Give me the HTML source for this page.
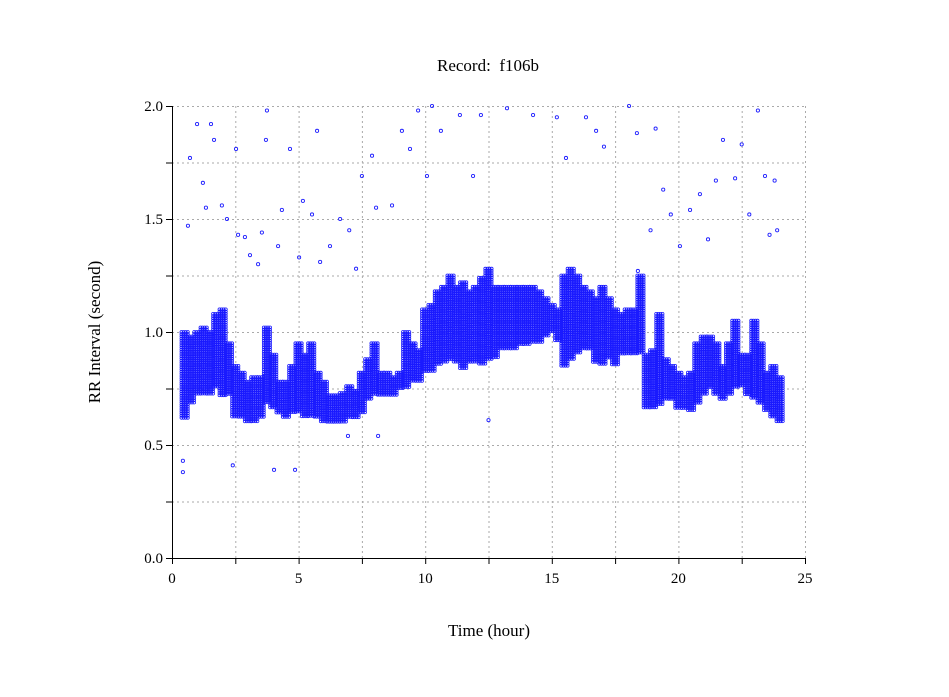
<!DOCTYPE html>
<html><head><meta charset="utf-8"><style>
body{margin:0;background:#fff}
svg{display:block;font-family:"Liberation Serif",serif}
</style></head><body>
<svg id="chart" width="949" height="697">
<g id="grid"></g>
<g id="marks"></g>
<g id="axes"></g>
<text x="488" y="71" text-anchor="middle" font-size="17">Record:&#160; f106b</text>
<text x="489" y="636" text-anchor="middle" font-size="17">Time (hour)</text>
<text transform="translate(100,332) rotate(-90)" text-anchor="middle" font-size="17">RR Interval (second)</text>
</svg>
<script>
const binStart=0.5, binWidth=0.25;
const bandLow=[0.62,0.68,0.72,0.72,0.72,0.75,0.72,0.72,0.62,0.62,0.6,0.6,0.62,0.68,0.66,0.64,0.62,0.64,0.64,0.62,0.62,0.62,0.6,0.6,0.6,0.6,0.62,0.62,0.64,0.7,0.72,0.72,0.72,0.72,0.75,0.75,0.78,0.78,0.82,0.82,0.85,0.86,0.88,0.86,0.84,0.86,0.86,0.86,0.88,0.88,0.92,0.92,0.92,0.94,0.94,0.95,0.95,0.98,1.0,0.96,0.85,0.88,0.9,0.92,0.92,0.86,0.85,0.88,0.85,0.9,0.9,0.9,0.9,0.66,0.66,0.68,0.7,0.7,0.66,0.66,0.65,0.68,0.72,0.75,0.72,0.7,0.72,0.75,0.76,0.72,0.7,0.68,0.65,0.62,0.6];
const bandHigh=[1.0,0.98,1.0,1.02,1.0,1.08,1.1,0.95,0.85,0.82,0.78,0.8,0.8,1.02,0.9,0.78,0.78,0.85,0.95,0.9,0.95,0.82,0.78,0.72,0.72,0.73,0.76,0.74,0.82,0.88,0.95,0.82,0.82,0.8,0.82,1.0,0.95,0.92,1.1,1.12,1.18,1.2,1.25,1.2,1.22,1.18,1.2,1.24,1.28,1.2,1.2,1.2,1.2,1.2,1.2,1.2,1.18,1.15,1.12,1.1,1.25,1.28,1.25,1.2,1.18,1.15,1.2,1.15,1.1,1.08,1.1,1.1,1.25,0.9,0.92,1.08,0.88,0.85,0.82,0.8,0.82,0.95,0.98,0.98,0.95,0.85,0.95,1.05,0.9,0.9,1.05,0.95,0.82,0.85,0.8];
const outT=[0.43,0.43,0.63,0.71,0.99,1.22,1.34,1.54,1.66,1.97,2.17,2.4,2.53,2.61,2.88,3.08,3.4,3.55,3.75,3.71,4.03,4.19,4.34,4.66,4.86,5.02,5.17,5.53,5.73,5.85,6.24,6.64,7.0,7.27,7.5,7.9,8.06,6.95,8.14,8.69,9.08,9.4,9.72,10.07,10.27,10.62,11.37,11.89,12.2,12.5,13.23,14.26,15.2,15.56,16.35,16.75,17.06,18.05,18.36,19.1,18.9,19.4,19.7,20.06,20.46,20.85,21.17,21.48,21.76,22.24,22.5,22.8,23.14,23.42,23.6,23.8,23.9,18.4];
const outV=[0.38,0.43,1.47,1.77,1.92,1.66,1.55,1.92,1.85,1.56,1.5,0.41,1.81,1.43,1.42,1.34,1.3,1.44,1.98,1.85,0.39,1.38,1.54,1.81,0.39,1.33,1.58,1.52,1.89,1.31,1.38,1.5,1.45,1.28,1.69,1.78,1.55,0.54,0.54,1.56,1.89,1.81,1.98,1.69,2.0,1.89,1.96,1.69,1.96,0.61,1.99,1.96,1.95,1.77,1.95,1.89,1.82,2.0,1.88,1.9,1.45,1.63,1.52,1.38,1.54,1.61,1.41,1.67,1.85,1.68,1.83,1.52,1.98,1.69,1.43,1.67,1.45,1.27];
const xTicks=[0,5,10,15,20,25];
const yTicks=[0.0,0.5,1.0,1.5,2.0];

const NS="http://www.w3.org/2000/svg";
const X0=172,X1=805,Y0=558,Y1=106;
const xs=t=>X0+(X1-X0)*t/25;
const ys=v=>Y0-(Y0-Y1)*v/2;
const grid=document.getElementById('grid'),marks=document.getElementById('marks'),axes=document.getElementById('axes');
function ln(p,x1,y1,x2,y2,st,dash){const l=document.createElementNS(NS,'line');l.setAttribute('x1',x1);l.setAttribute('y1',y1);l.setAttribute('x2',x2);l.setAttribute('y2',y2);l.setAttribute('stroke',st);l.setAttribute('stroke-width',1);if(dash)l.setAttribute('stroke-dasharray',dash);p.appendChild(l);return l;}
for(let t=2.5;t<=25.01;t+=2.5){const l=ln(grid,xs(t)+0.5,Y1,xs(t)+0.5,Y0,'#aaa','2,3');

}
for(let v=0.25;v<=2.01;v+=0.25){const l=ln(grid,X0,ys(v)+0.5,X1,ys(v)+0.5,'#aaa','2,3');

}
bandLow.forEach((lo,i)=>{
 const hi=bandHigh[i];const t0=binStart+i*binWidth-binWidth/2;
 const xa=xs(t0),xb=xs(t0+binWidth);let d='';
 for(let x=xa;x<xb;x+=2.1){for(let y=ys(hi);y<=ys(lo);y+=2.2){d+=`M${(x-1.5).toFixed(1)} ${y.toFixed(1)}a1.5 1.5 0 1 0 3 0a1.5 1.5 0 1 0 -3 0`;}}
 const p=document.createElementNS(NS,'path');p.setAttribute('d',d);p.setAttribute('fill','none');p.setAttribute('stroke','#1a1aff');p.setAttribute('stroke-width','0.8');
 
 
 marks.appendChild(p);
});
outT.forEach((t,i)=>{const c=document.createElementNS(NS,'circle');c.setAttribute('cx',xs(t));c.setAttribute('cy',ys(outV[i]));c.setAttribute('r',1.6);c.setAttribute('fill','none');c.setAttribute('stroke','#2020ff');c.setAttribute('stroke-width','0.9');


marks.appendChild(c);});
ln(axes,X0+0.5,Y1,X0+0.5,Y0,'#000');ln(axes,X0,Y0+0.5,X1,Y0+0.5,'#000');
for(let v=0;v<=2.01;v+=0.25){ln(axes,X0-6,ys(v)+0.5,X0,ys(v)+0.5,'#000');}
for(let t=0;t<=25.01;t+=2.5){ln(axes,xs(t)+0.5,Y0,xs(t)+0.5,Y0+6,'#000');}
xTicks.forEach(t=>{const tx=document.createElementNS(NS,'text');tx.setAttribute('x',xs(t));tx.setAttribute('y',Y0+25);tx.setAttribute('text-anchor','middle');tx.setAttribute('font-size','15');tx.textContent=t;


axes.appendChild(tx);});
yTicks.forEach(v=>{const tx=document.createElementNS(NS,'text');tx.setAttribute('x',X0-9);tx.setAttribute('y',ys(v)+5);tx.setAttribute('text-anchor','end');tx.setAttribute('font-size','15');tx.textContent=v.toFixed(1);


axes.appendChild(tx);});
</script>
</body></html>
